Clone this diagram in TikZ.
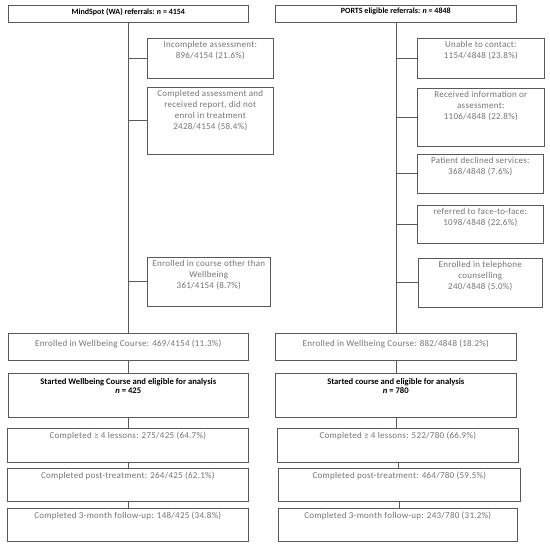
\documentclass[tikz,border=0pt]{standalone}
\usepackage{fontspec}
\setmainfont{Carlito}
\newfontfamily\spaced[LetterSpace=3]{Carlito}
\newcommand{\cell}[4]{\parbox[c][#2pt][t]{#1pt}{\centering\vspace*{#3pt}#4}}

\begin{document}
\begin{tikzpicture}[x=1pt,y=-1pt,
  box/.style={draw=black!65,line width=0.6pt,inner sep=0pt,anchor=north west,text=black!55,font=\spaced\fontsize{9}{11}\selectfont},
  head/.style={box,text=black,font=\bfseries\fontsize{8}{9}\selectfont},
  start/.style={box,text=black,font=\bfseries\fontsize{8.6}{9}\selectfont}]
\useasboundingbox (0,0) rectangle (550,548);
% MindSpot column
\node[head] (m0) at (8,5) {\cell{240}{17}{3}{MindSpot (WA) referrals: \textit{n} = 4154}};
\node[box] (m1) at (147,38) {\cell{126}{40}{3}{Incomplete assessment:\\896/4154 (21.6\%)}};
\node[box] (m2) at (147,87) {\cell{126}{67}{3}{Completed assessment and\\received report, did not\\enrol in treatment\\2428/4154 (58.4\%)}};
\node[box] (m3) at (147,257) {\cell{123}{49}{3}{Enrolled in course other than\\Wellbeing\\361/4154 (8.7\%)}};
\node[box] (m4) at (8,333) {\cell{240}{27}{7}{Enrolled in Wellbeing Course: 469/4154 (11.3\%)}};
\node[start] (m5) at (8,373) {\cell{240}{44}{5}{Started Wellbeing Course and eligible for analysis\\\textit{n} = 425}};
\node[box] (m6) at (7,428) {\cell{241}{34}{4}{Completed ≥ 4 lessons: 275/425 (64.7\%)}};
\node[box] (m7) at (7,468) {\cell{241}{33}{4}{Completed post-treatment: 264/425 (62.1\%)}};
\node[box] (m8) at (7,508) {\cell{241}{33}{4}{Completed 3-month follow-up: 148/425 (34.8\%)}};
% PORTS column
\node[head] (p0) at (275,5) {\cell{241}{17}{3}{PORTS eligible referrals: \textit{n} = 4848}};
\node[box] (p1) at (417,38) {\cell{127}{40}{3}{Unable to contact:\\1154/4848 (23.8\%)}};
\node[box] (p2) at (417,88) {\cell{127}{58}{3}{Received information or\\assessment:\\1106/4848 (22.8\%)}};
\node[box] (p3) at (417,154) {\cell{126}{39}{3}{Patient declined services:\\368/4848 (7.6\%)}};
\node[box] (p4) at (417,205) {\cell{126}{38}{3}{referred to face-to-face:\\1098/4848 (22.6\%)}};
\node[box] (p5) at (418,258) {\cell{124}{49}{3}{Enrolled in telephone\\counselling\\240/4848 (5.0\%)}};
\node[box] (p6) at (275,333) {\cell{241}{27}{7}{Enrolled in Wellbeing Course: 882/4848 (18.2\%)}};
\node[start] (p7) at (275,373) {\cell{241}{44}{5}{Started course and eligible for analysis\\\textit{n} = 780}};
\node[box] (p8) at (277,428) {\cell{241}{34}{4}{Completed ≥ 4 lessons: 522/780 (66.9\%)}};
\node[box] (p9) at (278,468) {\cell{242}{33}{4}{Completed post-treatment: 464/780 (59.5\%)}};
\node[box] (p10) at (278,508) {\cell{239}{33}{4}{Completed 3-month follow-up: 243/780 (31.2\%)}};
% connectors
\foreach \a/\b in {m0/m4,m4/m5,m5/m6,m6/m7,m7/m8,p0/p6,p6/p7,p7/p8,p8/p9,p9/p10}
  \draw[black!65,line width=0.6pt] (\a.south) -- (\a.south |- \b.north);
\foreach \s in {m1,m2,m3} \draw[black!65,line width=0.6pt] (m0.south |- \s.west) -- (\s.west);
\foreach \s in {p1,p2,p3,p4,p5} \draw[black!65,line width=0.6pt] (p0.south |- \s.west) -- (\s.west);
\end{tikzpicture}
\end{document}
